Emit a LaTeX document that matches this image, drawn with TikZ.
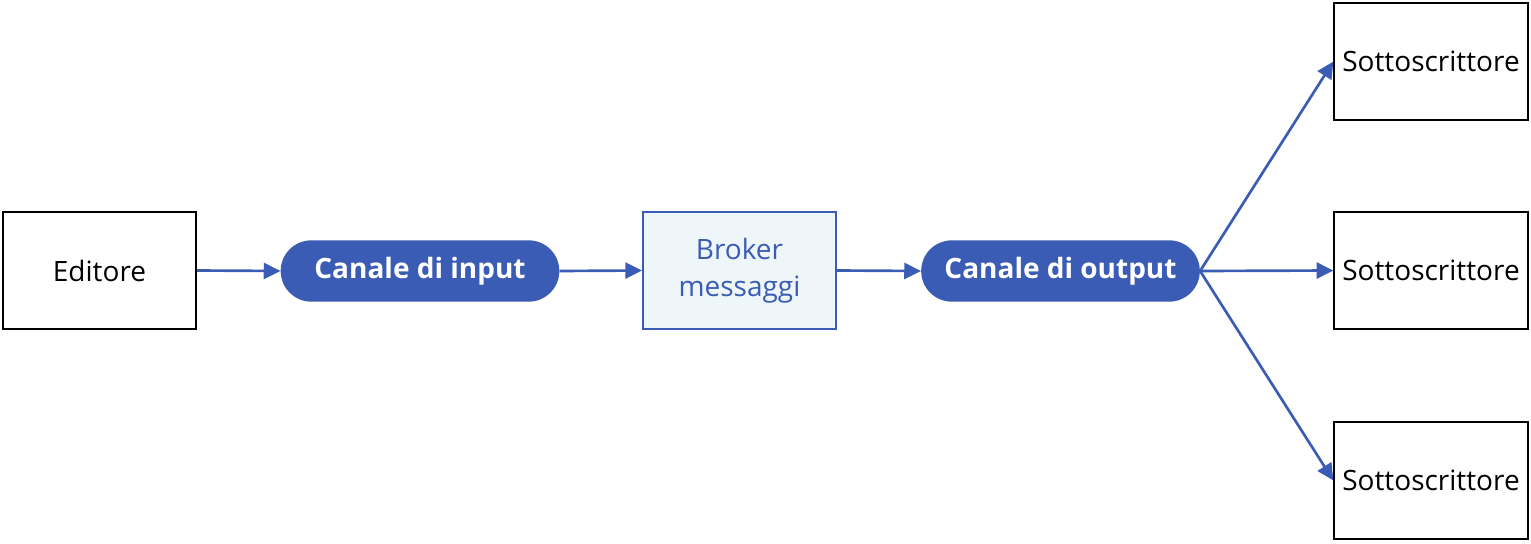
\documentclass[tikz,border=0pt]{standalone}
\usepackage{fontspec}
\setmainfont{Open Sans}
\usetikzlibrary{arrows.meta}
\definecolor{kblue}{RGB}{58,92,180}
\definecolor{kbrokerfill}{RGB}{239,246,250}

\begin{document}
\begin{tikzpicture}[x=0.75pt, y=-0.75pt,
	box/.style={draw=black, line width=1.5pt, minimum width=145pt, minimum height=88pt, inner sep=0pt, font=\fontsize{21}{25}\selectfont},
	channel/.style={fill=kblue, text=white, rounded corners=23pt, minimum width=209pt, minimum height=46pt, inner sep=0pt, font=\bfseries\fontsize{21}{25}\selectfont},
	brokerbox/.style={box, draw=kblue, fill=kbrokerfill, text=kblue, line width=1.3pt, align=center, font=\fontsize{21}{28}\selectfont},
	conn/.style={draw=kblue, line width=2pt, -{Triangle[length=12.5pt, width=12pt]}}]

\useasboundingbox (0,0) rectangle (1531,543);

\node[box] (editore) at (99.5,270.5) {Editore};
\node[channel] (input) at (420,271) {Canale di input};
\node[brokerbox] (broker) at (739.5,270.5) {Broker\\messaggi};
\node[channel] (output) at (1060.5,271) {Canale di output};

\foreach \n/\y in {1/61.5, 2/270.5, 3/480.5}
	\node[box] (sub\n) at (1431,\y) {Sottoscrittore};

\draw[conn] (editore.east) -- (input.west);
\draw[conn] (input.east) -- (broker.west);
\draw[conn] (broker.east) -- (output.west);
\foreach \n in {1,2,3}
	\draw[conn] (output.east) -- (sub\n.west);

\end{tikzpicture}
\end{document}
